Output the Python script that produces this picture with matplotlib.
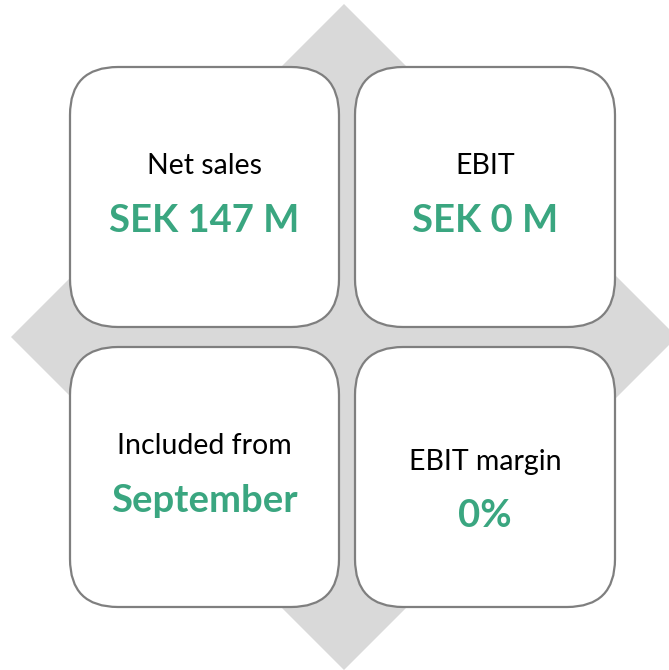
import matplotlib
matplotlib.use("Agg")
import matplotlib.pyplot as plt
from matplotlib.patches import FancyBboxPatch, Polygon

labels = ["Net sales", "EBIT", "Included from", "EBIT margin"]
values = ["SEK 147 M", "SEK 0 M", "September", "0%"]

GREEN = "#3aa680"
GRAY_FILL = "#d9d9d9"
EDGE = "#7f7f7f"

fig = plt.figure(figsize=(6.69, 6.70), dpi=100)
ax = fig.add_axes([0, 0, 1, 1])
ax.set_xlim(0, 669)
ax.set_ylim(670, 0)
ax.axis("off")

# background diamond
cx, cy, r = 344, 337, 333
ax.add_patch(Polygon([(cx, cy - r), (cx + r, cy), (cx, cy + r), (cx - r, cy)],
                     closed=True, facecolor=GRAY_FILL, edgecolor="none", zorder=1))

boxes = [(70, 67, 269, 260), (355, 67, 260, 260), (70, 347, 269, 260), (355, 347, 260, 260)]
label_y = [166, 166, 446, 462]
value_y = [221, 221, 501, 516]

for (x, y, w, h), lab, val, ly, vy in zip(boxes, labels, values, label_y, value_y):
    ax.add_patch(FancyBboxPatch((x, y), w, h, boxstyle="round,pad=0,rounding_size=48",
                                facecolor="white", edgecolor=EDGE, linewidth=1.6, zorder=2))
    xc = x + w / 2
    ax.text(xc, ly, lab, ha="center", va="center", fontsize=20.5, color="black",
            family=["Lato", "DejaVu Sans"], zorder=3)
    ax.text(xc, vy, val, ha="center", va="center", fontsize=27.5, color=GREEN,
            fontweight="bold", family=["Lato", "DejaVu Sans"], zorder=3)

fig.savefig("out.png", dpi=100)
